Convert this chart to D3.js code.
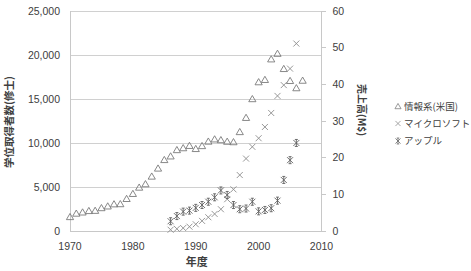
<!DOCTYPE html>
<html><head><meta charset="utf-8">
<script src="https://cdn.jsdelivr.net/npm/d3@7"></script>
<style>
html,body{margin:0;padding:0;background:#fff;}
text{font-family:"Liberation Sans","Noto Sans CJK JP",sans-serif;fill:#404040;}
.jp{font-family:"Noto Sans CJK JP",sans-serif;}
</style></head>
<body><svg id="c" width="471" height="271"></svg>
<script>
const csYears = d3.range(1970, 2008);
const csDegrees = [1588,1977,2113,2276,2299,2603,2798,3038,3055,3647,4218,4935,5321,6190,7101,8070,8481,9197,9414,9677,9324,9655,10163,10416,10326,10151,10098,11246,12858,14990,16911,17173,19509,20143,18416,17055,16232,17087];
const coYears = d3.range(1986, 2007);
const microsoft = [0.346,0.591,0.804,1.18,1.84,2.76,3.75,4.65,5.94,8.67,11.36,15.26,19.75,22.96,25.30,28.37,32.19,36.84,39.79,44.28,51.12];
const apple = [2.66,4.07,5.28,5.56,6.31,7.09,7.98,9.19,11.06,9.83,7.08,5.94,6.13,7.98,5.36,5.74,6.21,8.28,13.93,19.32,24.01];
const xTicks = [1970,1980,1990,2000,2010];
const leftTicks = [0,5000,10000,15000,20000,25000];
const rightTicks = [0,10,20,30,40,50,60];
const seriesNames = ["情報系(米国)","マイクロソフト","アップル"];

const svg = d3.select("#c");
const L = 70, R = 321.5, T = 11, B = 231;
const x = d3.scaleLinear().domain([1970,2010]).range([L,R]);
const yL = d3.scaleLinear().domain([0,25000]).range([B,T]);
const yR = d3.scaleLinear().domain([0,60]).range([B,T]);

// gridlines
svg.append("g").selectAll("line").data(leftTicks.filter(d=>d>0)).join("line")
  .attr("x1",L).attr("x2",R).attr("y1",d=>yL(d)).attr("y2",d=>yL(d))
  .attr("stroke","#d0d0d0").attr("stroke-width",1).attr("shape-rendering","crispEdges");

// axes lines
const axC = "#c8c8c8";
svg.append("line").attr("x1",L).attr("x2",L).attr("y1",T).attr("y2",B).attr("stroke",axC).attr("shape-rendering","crispEdges");
svg.append("line").attr("x1",L).attr("x2",R).attr("y1",B).attr("y2",B).attr("stroke",axC).attr("shape-rendering","crispEdges");
svg.append("line").attr("x1",R).attr("x2",R).attr("y1",T).attr("y2",B).attr("stroke",axC).attr("shape-rendering","crispEdges");

// left axis
const fmt = d3.format(",");
svg.append("g").selectAll("text").data(leftTicks).join("text")
  .attr("x",L-10).attr("y",d=>yL(d)).attr("dy","0.35em").attr("text-anchor","end")
  .attr("font-size",10.5).text(d=>fmt(d));
// right axis
const gr = svg.append("g");
gr.selectAll("line").data(rightTicks).join("line")
  .attr("x1",R).attr("x2",R+4).attr("y1",d=>yR(d)).attr("y2",d=>yR(d))
  .attr("stroke",axC).attr("shape-rendering","crispEdges");
gr.selectAll("text").data(rightTicks).join("text")
  .attr("x",R+11).attr("y",d=>yR(d)).attr("dy","0.35em").attr("text-anchor","start")
  .attr("font-size",10.5).text(d=>d);
// x axis
svg.append("g").selectAll("text").data(xTicks).join("text")
  .attr("x",d=>x(d)).attr("y",B+15).attr("dy","0.35em").attr("text-anchor","middle")
  .attr("font-size",10.5).text(d=>d);

// titles
svg.append("text").attr("class","jp").attr("transform",`translate(9,${(T+B)/2+1}) rotate(-90)`)
  .attr("text-anchor","middle").attr("dy","0.35em").attr("font-size",10.5).attr("font-weight","bold").text("学位取得者数(修士)");
svg.append("text").attr("class","jp").attr("transform",`translate(361,110) rotate(90)`)
  .attr("text-anchor","middle").attr("dy","0.35em").attr("font-size",10).attr("font-weight","bold").text("売上高(M$)");
svg.append("text").attr("class","jp").attr("x",(L+R)/2+1).attr("y",262).attr("dy","0.35em")
  .attr("text-anchor","middle").attr("font-size",11).attr("font-weight","bold").text("年度");

// markers
const triPath = "M0,-3.6L3.6,2.6L-3.6,2.6Z";
const xPath = "M-3,-3L3,3M-3,3L3,-3";
const starPath = "M-3,-3L3,3M-3,3L3,-3M0,-3.5L0,3.5M-1.5,-3.5L1.5,-3.5M-1.5,3.5L1.5,3.5";

svg.append("g").selectAll("path").data(csYears.map((yr,i)=>[yr,csDegrees[i]])).join("path")
  .attr("d",triPath).attr("transform",d=>`translate(${x(d[0])},${yL(d[1])})`)
  .attr("fill","none").attr("stroke","#7a7a7a").attr("stroke-width",0.9);
svg.append("g").selectAll("path").data(coYears.map((yr,i)=>[yr,microsoft[i]])).join("path")
  .attr("d",xPath).attr("transform",d=>`translate(${x(d[0])},${yR(d[1])})`)
  .attr("fill","none").attr("stroke","#8c8c8c").attr("stroke-width",0.9);
svg.append("g").selectAll("path").data(coYears.map((yr,i)=>[yr,apple[i]])).join("path")
  .attr("d",starPath).attr("transform",d=>`translate(${x(d[0])},${yR(d[1])})`)
  .attr("fill","none").attr("stroke","#606060").attr("stroke-width",0.9);

// legend
const lg = svg.append("g");
const lpaths = [triPath, xPath, starPath];
const lcols = ["#7a7a7a","#8c8c8c","#606060"];
const ly = [106.5, 123.5, 141];
seriesNames.forEach((n,i)=>{
  lg.append("path").attr("d",lpaths[i]).attr("transform",`translate(398,${ly[i]}) scale(0.85)`)
    .attr("fill","none").attr("stroke",lcols[i]).attr("stroke-width",0.9);
  lg.append("text").attr("class","jp").attr("x",404).attr("y",ly[i]).attr("dy","0.35em")
    .attr("font-size",9.5).text(n);
});
</script></body></html>
